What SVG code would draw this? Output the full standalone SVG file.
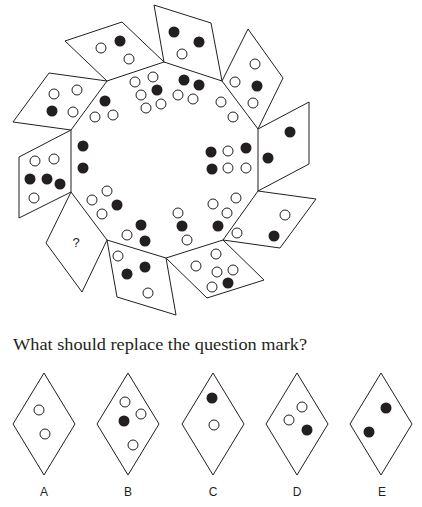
<svg xmlns="http://www.w3.org/2000/svg" width="422" height="507" viewBox="0 0 422 507">
<style>
.rh{fill:#fff;stroke:#231f20;stroke-width:1;stroke-linejoin:miter}
.o{fill:#fff;stroke:#231f20;stroke-width:1}
.f{fill:#231f20}
.q{font-family:"Liberation Serif","Times New Roman",serif;font-size:16.5px;fill:#231f20}
.lb{font-family:"Liberation Sans",Arial,sans-serif;font-size:12px;fill:#231f20;text-anchor:middle}
</style>
<rect width="422" height="507" fill="#fff"/>
<g id="ring">
<g id="r-topleft"><polygon class="rh" points="107,81 65,41 122,22 164,62"/>
<circle class="o" cx="101" cy="48" r="5"/><circle class="f" cx="120" cy="41" r="5.5"/><circle class="o" cx="129" cy="59" r="5"/></g>
<g id="r-top"><polygon class="rh" points="164,62 154,5 211,23 222,81"/>
<circle class="f" cx="174" cy="32" r="5.5"/><circle class="f" cx="199" cy="42" r="5.5"/><circle class="o" cx="182" cy="54" r="5"/></g>
<g id="r-upperright"><polygon class="rh" points="222,81 248,29 283,78 258,129"/>
<circle class="o" cx="255" cy="64" r="5"/><circle class="o" cx="235" cy="82" r="5"/><circle class="f" cx="257" cy="86" r="5.5"/><circle class="o" cx="253" cy="103" r="5"/></g>
<g id="r-right"><polygon class="rh" points="258,129 309,102 309,164 258,191"/>
<circle class="f" cx="290" cy="132" r="5.5"/><circle class="f" cx="268" cy="158" r="5.5"/></g>
<g id="r-lowerright"><polygon class="rh" points="258,191 316,199 280,248 223,240"/>
<circle class="o" cx="285" cy="215" r="5"/><circle class="f" cx="274" cy="236" r="5.5"/><circle class="o" cx="237" cy="233" r="5"/></g>
<g id="r-bottomright"><polygon class="rh" points="223,240 264,280 207,298 166,258"/>
<circle class="o" cx="216" cy="254" r="5"/><circle class="o" cx="196" cy="266" r="5"/><circle class="o" cx="217" cy="272" r="5"/><circle class="o" cx="233" cy="270" r="5"/><circle class="f" cx="228" cy="283" r="5.5"/><circle class="o" cx="212" cy="287" r="5"/></g>
<g id="r-bottomleft"><polygon class="rh" points="107,240 166,258 176,315 117,297"/>
<circle class="o" cx="118" cy="256" r="5"/><circle class="f" cx="145" cy="267" r="5.5"/><circle class="f" cx="127" cy="274" r="5.5"/><circle class="o" cx="148" cy="293" r="5"/></g>
<g id="r-question"><polygon class="rh" points="71,192 107,240 82,292 46,243"/>
<text x="76" y="247" class="lb" style="font-size:13px">?</text></g>
<g id="r-left"><polygon class="rh" points="71,130 71,192 19,218 19,157"/>
<circle class="o" cx="35" cy="161" r="5"/><circle class="o" cx="54" cy="159" r="5"/><circle class="f" cx="30" cy="179" r="5.5"/><circle class="f" cx="47" cy="179" r="5.5"/><circle class="f" cx="60" cy="184" r="5.5"/><circle class="o" cx="34" cy="198" r="5"/></g>
<g id="r-leftupper"><polygon class="rh" points="71,130 13,122 49,73 107,81"/>
<circle class="o" cx="54" cy="94" r="5"/><circle class="o" cx="77" cy="90" r="5"/><circle class="f" cx="52" cy="111" r="5.5"/><circle class="o" cx="73" cy="112" r="5"/></g>
</g>
<g id="inner-dots">
<circle class="o" cx="135" cy="82" r="5"/><circle class="o" cx="153" cy="77" r="5"/><circle class="o" cx="141" cy="95" r="5"/><circle class="o" cx="161" cy="104" r="5"/><circle class="o" cx="146" cy="108" r="5"/>
<circle class="o" cx="95" cy="117" r="5"/><circle class="o" cx="113" cy="115" r="5"/><circle class="o" cx="178" cy="95" r="5"/><circle class="o" cx="193" cy="99" r="5"/>
<circle class="o" cx="221" cy="102" r="5"/><circle class="o" cx="233" cy="117" r="5"/><circle class="o" cx="228" cy="151" r="5"/><circle class="o" cx="228" cy="168" r="5"/><circle class="o" cx="246" cy="168" r="5"/>
<circle class="o" cx="236" cy="198" r="5"/><circle class="o" cx="213" cy="204" r="5"/><circle class="o" cx="227" cy="213" r="5"/><circle class="o" cx="178" cy="213" r="5"/><circle class="o" cx="187" cy="240" r="5"/>
<circle class="o" cx="127" cy="235" r="5"/><circle class="o" cx="107" cy="191" r="5"/><circle class="o" cx="92" cy="200" r="5"/><circle class="o" cx="102" cy="214" r="5"/>
<circle class="f" cx="157" cy="90" r="5.5"/><circle class="f" cx="105" cy="101" r="5.5"/><circle class="f" cx="184" cy="80" r="5.5"/><circle class="f" cx="199" cy="85" r="5.5"/>
<circle class="f" cx="83" cy="146" r="5.5"/><circle class="f" cx="83" cy="168" r="5.5"/><circle class="f" cx="211" cy="152" r="5.5"/><circle class="f" cx="246" cy="148" r="5.5"/><circle class="f" cx="212" cy="169" r="5.5"/>
<circle class="f" cx="182" cy="226" r="5.5"/><circle class="f" cx="218" cy="226" r="5.5"/><circle class="f" cx="117" cy="205" r="5.5"/><circle class="f" cx="141" cy="225" r="5.5"/><circle class="f" cx="145" cy="241" r="5.5"/>
</g>
<g id="connectors"/>
<text class="q" x="13" y="350" textLength="294" lengthAdjust="spacingAndGlyphs">What should replace the question mark?</text>
<g id="opt-A"><polygon class="rh" points="44,373 75,424 44,475 13,424"/>
<circle class="o" cx="39" cy="410" r="5"/><circle class="o" cx="45" cy="434" r="5"/>
<text class="lb" x="44" y="496">A</text></g>
<g id="opt-B"><polygon class="rh" points="128,373 159,424 128,475 97,424"/>
<circle class="o" cx="125" cy="402" r="5"/><circle class="o" cx="141" cy="414" r="5"/><circle class="f" cx="124" cy="421" r="5.5"/><circle class="o" cx="133" cy="445" r="5"/>
<text class="lb" x="128" y="496">B</text></g>
<g id="opt-C"><polygon class="rh" points="213,373 244,424 213,475 182,424"/>
<circle class="f" cx="212" cy="398" r="5.5"/><circle class="o" cx="214" cy="425" r="5"/>
<text class="lb" x="213" y="496">C</text></g>
<g id="opt-D"><polygon class="rh" points="297,373 328,424 297,475 266,424"/>
<circle class="o" cx="302" cy="407" r="5"/><circle class="o" cx="289" cy="420" r="5"/><circle class="f" cx="307" cy="430" r="5.5"/>
<text class="lb" x="297" y="496">D</text></g>
<g id="opt-E"><polygon class="rh" points="381,373 412,424 381,475 350,424"/>
<circle class="f" cx="386" cy="408" r="5.5"/><circle class="f" cx="369" cy="432" r="5.5"/>
<text class="lb" x="382" y="496">E</text></g>
</svg>
